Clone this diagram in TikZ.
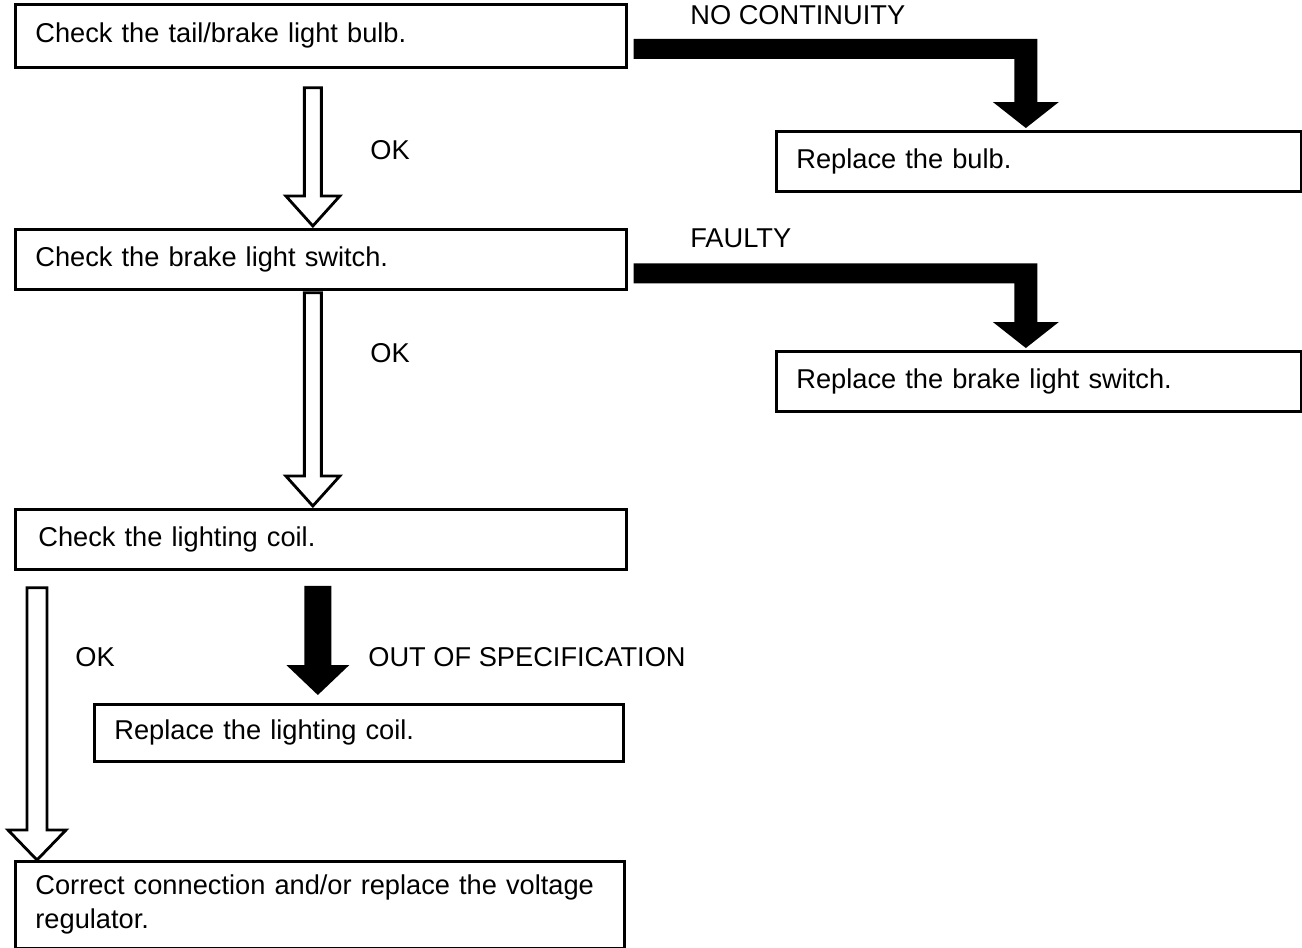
\documentclass[tikz,border=0pt]{standalone}
\usepackage{fontspec}
\setmainfont{Liberation Sans}
\usetikzlibrary{calc}

% straight hollow (white) downward arrow from #2 (top centre) to #3 (tip)
\newcommand\hollowdown[5][]{%
  \draw[hollowarrow,#1] let \p1=#2, \p2=#3 in
    (\x1-#4,\y1) -- (\x1+#4,\y1) -- (\x1+#4,\y2+0.6cm) -- (\x1+#5,\y2+0.6cm)
    -- (\x1,\y2) -- (\x1-#5,\y2+0.6cm) -- (\x1-#4,\y2+0.6cm) -- cycle;}

% straight solid (black) downward arrow
\newcommand\soliddown[4]{%
  \fill[solidarrow] let \p1=#1, \p2=#2 in
    (\x1-#3,\y1) -- (\x1+#3,\y1) -- (\x1+#3,\y2+0.6cm) -- (\x1+#4,\y2+0.6cm)
    -- (\x1,\y2) -- (\x1-#4,\y2+0.6cm) -- (\x1-#3,\y2+0.6cm) -- cycle;}

% solid L-shaped arrow: right from #1 (bar centre at left end), then down to tip #2
\newcommand\solidell[2]{%
  \fill[solidarrow] let \p1=#1, \p2=#2 in
    (\x1,\y1+0.2cm) -- (\x2+0.23cm,\y1+0.2cm) -- (\x2+0.23cm,\y2+0.52cm)
    -- (\x2+0.66cm,\y2+0.52cm) -- (\x2,\y2) -- (\x2-0.66cm,\y2+0.52cm)
    -- (\x2-0.23cm,\y2+0.52cm) -- (\x2-0.23cm,\y1-0.2cm) -- (\x1,\y1-0.2cm) -- cycle;}

\begin{document}
\begin{tikzpicture}[x=0.02cm,y=-0.02cm,
  box/.style={draw, line width=1.6pt, anchor=north west, inner xsep=0.4cm,
    inner ysep=0pt, align=left, font=\fontsize{15.5}{19.3}\selectfont},
  lbl/.style={anchor=west, inner sep=0pt, font=\fontsize{15.5}{19}\selectfont},
  hollowarrow/.style={draw, fill=white, line width=1.6pt, line join=miter},
  solidarrow/.style={fill=black}]
\useasboundingbox (0,0) rectangle (1302,947);

% boxes
\node[box, text width=11.42cm, minimum height=1.26cm] (b1) at (14,3) {Check the tail/brake light bulb.};
\node[box, text width=9.70cm, minimum height=1.20cm] (r1) at (775,130) {Replace the bulb.};
\node[box, text width=11.42cm, minimum height=1.20cm] (b2) at (14,228) {Check the brake light switch.};
\node[box, text width=9.70cm, minimum height=1.20cm] (r2) at (775,350) {Replace the brake light switch.};
\node[box, text width=11.30cm, minimum height=1.20cm, inner xsep=0.46cm] (b3) at (14,508) {Check the lighting coil.};
\node[box, text width=9.78cm, minimum height=1.14cm] (r3) at (93,703) {Replace the lighting coil.};
\node[box, text width=11.38cm, minimum height=1.74cm] (b4) at (14,860) {Correct connection and/or replace the voltage\\regulator.};

% labels
\node[lbl] (l1) at (690,15) {NO CONTINUITY};
\node[lbl] (l2) at (370,150) {OK};
\node[lbl] (l3) at (690,238) {FAULTY};
\node[lbl] (l4) at (370,353) {OK};
\node[lbl] (l5) at (75,657) {OK};
\node[lbl] (l6) at (368,657) {OUT OF SPECIFICATION};

% connectors
\solidell{($(b1.east)+(6,13)$)}{($(r1.north)+(-13,-2)$)}
\solidell{($(b2.east)+(6,14)$)}{($(r2.north)+(-13,-2)$)}
\hollowdown{($(b1.south)+(-8,19)$)}{($(b2.north)+(-8,-2)$)}{0.17cm}{0.54cm}
\hollowdown{($(b2.south)+(-8,2)$)}{($(b3.north)+(-8,-2)$)}{0.17cm}{0.54cm}
\hollowdown{($(b3.south west)+(23,17)$)}{($(b4.north west)+(23,0)$)}{0.2cm}{0.58cm}
\soliddown{($(b3.south)+(-3,15)$)}{($(r3.north)+(-41,-8)$)}{0.27cm}{0.63cm}
\end{tikzpicture}
\end{document}
